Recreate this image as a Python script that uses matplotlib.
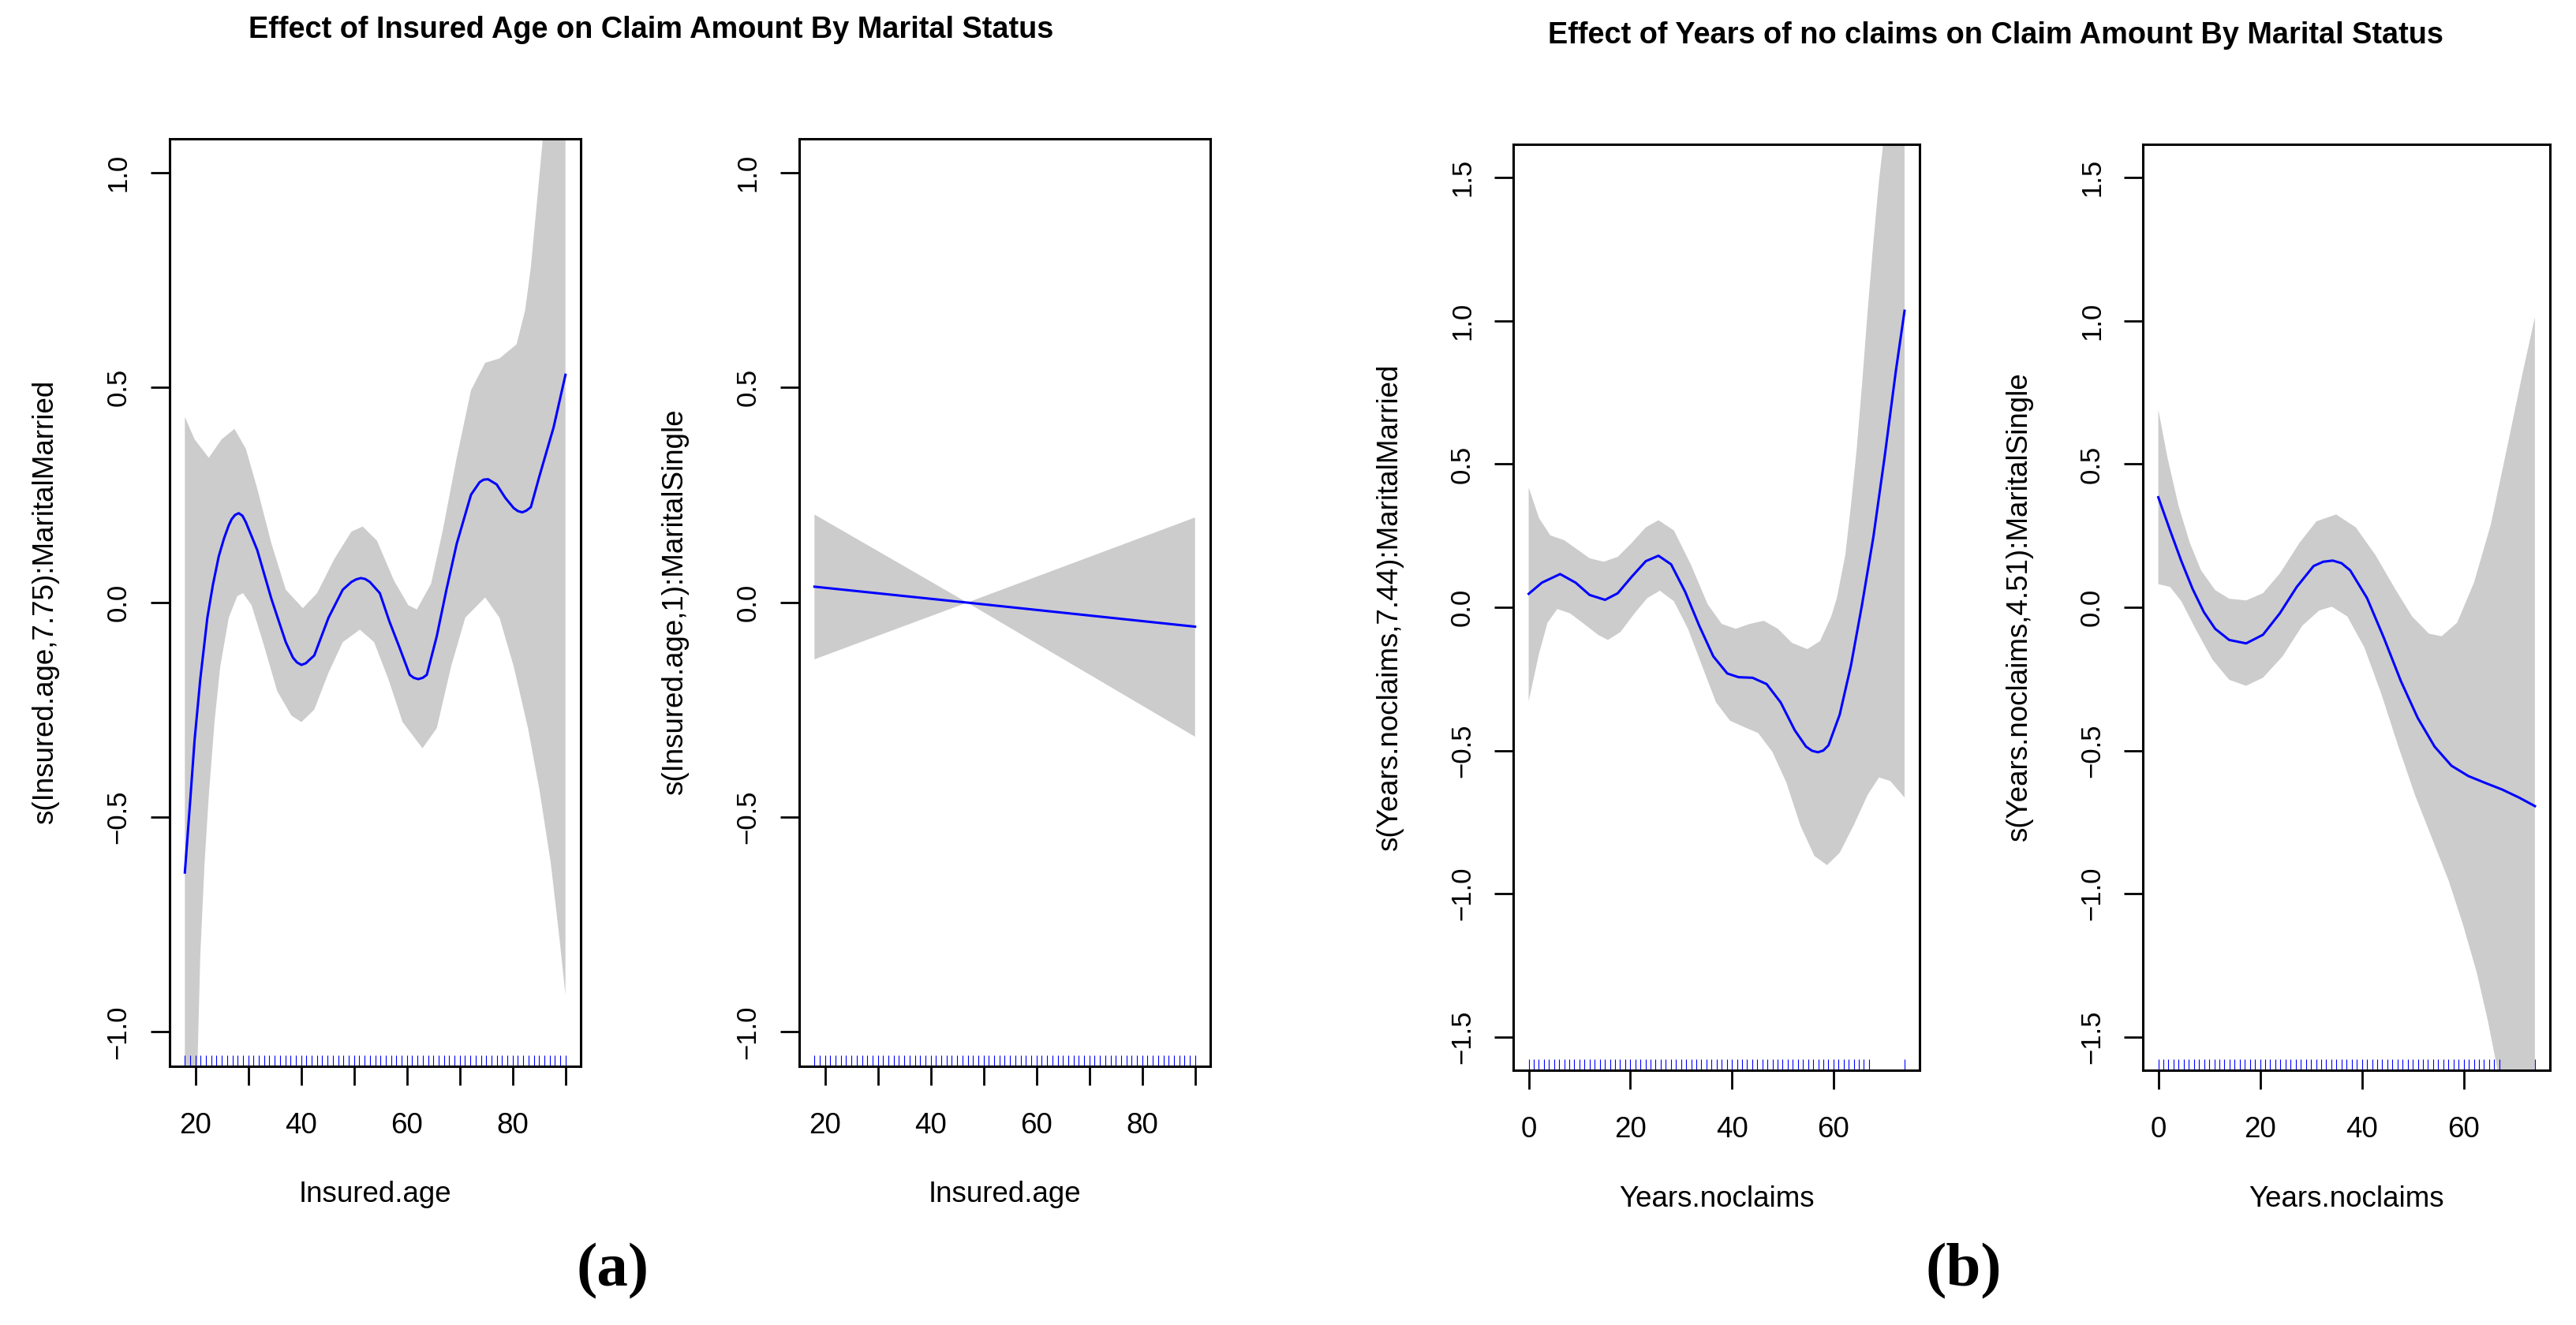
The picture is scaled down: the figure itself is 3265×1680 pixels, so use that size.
import matplotlib.pyplot as plt
import numpy as np

plt.rcParams['font.family'] = ['Liberation Sans', 'DejaVu Sans']

# ---- (a) left: s(Insured.age,7.75):MaritalMarried
am_fit_x = [18, 19.0, 19.84, 20.92, 22.26, 23.3, 24.42, 25.4, 26.31, 26.85, 27.5, 28.19, 28.9, 29.54,
            31.70, 34.39, 37.09, 38.44, 39.2, 40.05, 40.9, 41.67, 42.48, 45.18, 47.87, 49.5, 50.4,
            51.27, 52.1, 53.0, 54.88, 56.7, 58.65, 60.54, 61.3, 62.15, 63.0, 63.77, 65.66, 67.5,
            69.43, 72.13, 73.75, 74.5, 75.36, 76.98, 78.60, 80.2, 81.0, 81.83, 82.6, 83.45, 85.07,
            87.76, 90]
am_fit_y = [-0.629, -0.464, -0.321, -0.179, -0.036, 0.040, 0.107, 0.148, 0.179, 0.193, 0.203, 0.207, 0.201,
            0.186, 0.121, 0.007, -0.093, -0.129, -0.140, -0.146, -0.142, -0.133, -0.124, -0.036, 0.029,
            0.047, 0.053, 0.056, 0.054, 0.047, 0.021, -0.045, -0.107, -0.169, -0.176, -0.179, -0.176,
            -0.169, -0.079, 0.030, 0.136, 0.250, 0.279, 0.285, 0.286, 0.274, 0.243, 0.219, 0.212, 0.209,
            0.213, 0.221, 0.293, 0.407, 0.529]
am_up_x = [18, 19.84, 22.53, 24.96, 27.39, 29.54, 31.70, 34.39, 37.09, 40.32, 43.02, 46.25, 49.49,
           51.64, 54.34, 57.57, 60.27, 61.89, 64.58, 66.74, 69.43, 72.13, 74.82, 77.52, 80.75,
           82.37, 83.45, 84.53, 85.61, 87.0, 90]
am_up_y = [0.431, 0.379, 0.336, 0.379, 0.403, 0.357, 0.264, 0.136, 0.029, -0.014, 0.021, 0.100, 0.164,
           0.176, 0.143, 0.050, -0.007, -0.017, 0.043, 0.164, 0.336, 0.493, 0.557, 0.567, 0.600,
           0.679, 0.779, 0.921, 1.064, 1.40, 1.97]
am_lo_x = [18, 20.38, 20.92, 21.73, 22.53, 23.61, 24.69, 26.31, 27.92, 29.0, 30.62, 32.78, 35.47,
           38.17, 40.05, 42.48, 45.18, 47.87, 51.11, 53.80, 56.50, 59.19, 62.96, 65.66, 68.36,
           71.05, 74.82, 77.52, 80.22, 82.91, 85.07, 87.22, 88.84, 90]
am_lo_y = [-1.69, -1.079, -0.821, -0.607, -0.450, -0.279, -0.150, -0.036, 0.014, 0.021, -0.007, -0.093, -0.207,
           -0.264, -0.279, -0.250, -0.164, -0.093, -0.064, -0.093, -0.179, -0.279, -0.340, -0.293, -0.150,
           -0.036, 0.011, -0.036, -0.150, -0.293, -0.436, -0.607, -0.779, -0.914]

# ---- (a) right: s(Insured.age,1):MaritalSingle
as_x = [18, 46.9, 90]
as_fit = [0.036, -0.001, -0.057]
as_up = [0.204, -0.001, 0.197]
as_lo = [-0.133, -0.001, -0.313]

# ---- (b) left: s(Years.noclaims,7.44):MaritalMarried
bm_fit_x = [0, 2.60, 6.19, 9.24, 12.0, 15.04, 17.53, 20.30, 23.06, 25.55, 28.04, 30.81, 33.57, 36.34,
            39.10, 41.32, 44.08, 46.85, 49.61, 52.38, 54.59, 55.8, 56.97, 58.0, 59.02, 61.23, 63.44,
            65.65, 67.87, 70.08, 72.29, 74.0]
bm_fit_y = [0.047, 0.086, 0.116, 0.086, 0.043, 0.026, 0.049, 0.107, 0.161, 0.180, 0.150, 0.054, -0.064,
            -0.171, -0.231, -0.244, -0.246, -0.268, -0.332, -0.429, -0.486, -0.501, -0.506, -0.500,
            -0.482, -0.375, -0.204, 0.011, 0.246, 0.525, 0.825, 1.035]
bm_up_x = [0, 2.05, 4.26, 7.02, 9.79, 12.0, 14.77, 17.53, 20.30, 23.06, 25.55, 28.6, 31.91, 35.23, 38.0,
           40.76, 43.53, 46.29, 49.06, 51.83, 54.87, 57.36, 59.57, 60.67, 62.33, 63.44, 64.55, 65.65,
           66.76, 67.87, 68.97, 69.8, 74.0]
bm_up_y = [0.418, 0.311, 0.251, 0.234, 0.199, 0.171, 0.159, 0.176, 0.225, 0.279, 0.304, 0.268, 0.150,
           0.011, -0.058, -0.075, -0.058, -0.047, -0.075, -0.124, -0.146, -0.118, -0.032, 0.032, 0.182,
           0.354, 0.546, 0.782, 1.039, 1.275, 1.489, 1.618, 2.73]
bm_lo_x = [0, 2.05, 3.71, 5.64, 8.13, 10.9, 13.66, 15.6, 18.09, 20.85, 23.34, 25.83, 28.6, 31.36, 34.13,
           36.89, 39.66, 42.42, 45.19, 47.95, 50.72, 53.48, 56.25, 58.74, 61.23, 63.99, 66.76, 68.97,
           71.18, 74.0]
bm_lo_y = [-0.328, -0.161, -0.054, -0.006, -0.021, -0.058, -0.096, -0.114, -0.086, -0.021, 0.032, 0.058,
           0.021, -0.075, -0.204, -0.332, -0.396, -0.418, -0.439, -0.504, -0.611, -0.761, -0.868, -0.900,
           -0.857, -0.761, -0.654, -0.594, -0.606, -0.664]

# ---- (b) right: s(Years.noclaims,4.51):MaritalSingle
bs_fit_x = [0, 2.32, 4.53, 6.74, 8.96, 11.17, 13.93, 17.25, 20.56, 23.88, 27.20, 30.51, 32.4, 34.27, 36.0,
            37.70, 41.02, 44.33, 47.65, 50.97, 54.28, 57.60, 60.92, 64.24, 67.55, 70.87, 74.0]
bs_fit_y = [0.384, 0.268, 0.161, 0.064, -0.017, -0.075, -0.114, -0.126, -0.096, -0.021, 0.071, 0.144,
            0.159, 0.163, 0.154, 0.129, 0.032, -0.107, -0.257, -0.386, -0.486, -0.553, -0.589, -0.613,
            -0.636, -0.664, -0.694]
bs_up_x = [0, 1.77, 3.98, 6.19, 8.40, 11.17, 13.93, 17.25, 20.56, 23.88, 27.75, 31.07, 34.94, 38.81,
           42.68, 46.54, 49.86, 53.18, 55.67, 58.71, 62.03, 65.34, 68.66, 71.42, 74.0]
bs_up_y = [0.690, 0.525, 0.354, 0.225, 0.129, 0.060, 0.030, 0.024, 0.049, 0.118, 0.225, 0.300, 0.324,
           0.279, 0.182, 0.064, -0.032, -0.092, -0.101, -0.054, 0.086, 0.289, 0.568, 0.804, 1.013]
bs_lo_x = [0, 2.32, 4.53, 7.30, 10.61, 13.93, 17.25, 20.56, 24.43, 28.30, 31.62, 34.11, 37.15, 40.46,
           43.78, 47.10, 50.41, 53.73, 57.05, 59.81, 62.58, 64.79, 66.45, 74.0]
bs_lo_y = [0.081, 0.071, 0.021, -0.075, -0.182, -0.253, -0.274, -0.246, -0.171, -0.064, -0.011, 0.002,
           -0.032, -0.139, -0.300, -0.482, -0.654, -0.804, -0.954, -1.104, -1.275, -1.446, -1.596, -2.40]

# rug positions (observed values)
rug_age = [18, 19, 20, 21, 22, 23, 24, 25, 26, 27, 28, 29, 30, 31, 32, 33, 34, 35, 36, 37, 38, 39,
           40, 41, 42, 43, 44, 45, 46, 47, 48, 49, 50, 51, 52, 53, 54, 55, 56, 57, 58, 59, 60, 61,
           62, 63, 64, 65, 66, 67, 68, 69, 70, 71, 72, 73, 74, 75, 76, 77, 78, 79, 80, 81, 82, 83,
           84, 85, 86, 87, 88, 89, 90]
rug_years = [0, 1, 2, 3, 4, 5, 6, 7, 8, 9, 10, 11, 12, 13, 14, 15, 16, 17, 18, 19, 20, 21, 22, 23,
             24, 25, 26, 27, 28, 29, 30, 31, 32, 33, 34, 35, 36, 37, 38, 39, 40, 41, 42, 43, 44, 45,
             46, 47, 48, 49, 50, 51, 52, 53, 54, 55, 56, 57, 58, 59, 60, 61, 62, 63, 64, 65, 66, 67, 74]

W, H = 3266, 1680
fig = plt.figure(figsize=(W / 100, H / 100), dpi=100)


def px_axes(left, right, top, bottom):
    return fig.add_axes([left / W, 1 - bottom / H, (right - left) / W, (bottom - top) / H])


def fmt(v):
    return ('%.1f' % v).replace('-', '\u2212')


def panel(ax, fx, fy, ux, uy, lx, ly, rug, xlim, ylim, xt, xtl, yt, ylab, xlab, box):
    ax.fill(np.r_[ux, lx[::-1]], np.r_[uy, ly[::-1]], color='#cccccc', lw=0, zorder=1)
    ax.vlines(rug, 0, 0.0115, transform=ax.get_xaxis_transform(), color='blue', lw=0.8, zorder=2)
    ax.plot(fx, fy, color='blue', lw=2.2, zorder=3, solid_joinstyle='round')
    ax.set_xlim(xlim)
    ax.set_ylim(ylim)
    ax.set_xticks(xt, xtl)
    ax.set_yticks(yt, [fmt(v) for v in yt], rotation=90, va='center')
    ax.tick_params(axis='both', direction='out', length=17, width=2, color='black')
    ax.tick_params(axis='x', labelsize=26.5, pad=25)
    ax.tick_params(axis='y', labelsize=25, pad=18)
    for s in ax.spines.values():
        s.set_linewidth(2.2)
    left, right, top, bottom = box
    fig.text((left - 157) / W, 1 - (top + bottom) / 2 / H, ylab, rotation=90,
             ha='center', va='center', fontsize=26.5)
    fig.text((left + right) / 2 / W, 1 - (bottom + 163) / H, xlab,
             ha='center', va='center', fontsize=26.5)


xlim_a = (15.12, 92.88)
xlim_b = (-2.96, 76.96)
ylim_a = (-1.079, 1.079)
ylim_b = (-1.616, 1.616)
xt_a = [20, 30, 40, 50, 60, 70, 80, 90]
xtl_a = ['20', '', '40', '', '60', '', '80', '']
xt_b = [0, 20, 40, 60]
xtl_b = ['0', '20', '40', '60']
yt_a = [-1.0, -0.5, 0.0, 0.5, 1.0]
yt_b = [-1.5, -1.0, -0.5, 0.0, 0.5, 1.0, 1.5]

boxes = [(215, 736, 175.5, 1351.5), (1013, 1534, 175.5, 1351.5),
         (1918.5, 2433, 183, 1357), (2716.5, 3232, 183, 1357)]

ax1 = px_axes(*boxes[0])
panel(ax1, am_fit_x, am_fit_y, am_up_x, am_up_y, am_lo_x, am_lo_y, rug_age,
      xlim_a, ylim_a, xt_a, xtl_a, yt_a, 's(Insured.age,7.75):MaritalMarried', 'Insured.age', boxes[0])
ax2 = px_axes(*boxes[1])
panel(ax2, as_x, as_fit, as_x, as_up, as_x, as_lo, rug_age,
      xlim_a, ylim_a, xt_a, xtl_a, yt_a, 's(Insured.age,1):MaritalSingle', 'Insured.age', boxes[1])
ax3 = px_axes(*boxes[2])
panel(ax3, bm_fit_x, bm_fit_y, bm_up_x, bm_up_y, bm_lo_x, bm_lo_y, rug_years,
      xlim_b, ylim_b, xt_b, xtl_b, yt_b, 's(Years.noclaims,7.44):MaritalMarried', 'Years.noclaims', boxes[2])
ax4 = px_axes(*boxes[3])
panel(ax4, bs_fit_x, bs_fit_y, bs_up_x, bs_up_y, bs_lo_x, bs_lo_y, rug_years,
      xlim_b, ylim_b, xt_b, xtl_b, yt_b, 's(Years.noclaims,4.51):MaritalSingle', 'Years.noclaims', boxes[3])

fig.text(825.5 / W, 1 - 48 / H, 'Effect of Insured Age on Claim Amount By Marital Status',
         ha='center', va='baseline', fontsize=27.3, fontweight='bold')
fig.text(2529.5 / W, 1 - 55 / H, 'Effect of Years of no claims on Claim Amount By Marital Status',
         ha='center', va='baseline', fontsize=27.3, fontweight='bold')

fig.text(777 / W, 1 - 1612 / H, '(a)', ha='center', va='center', fontsize=57,
         fontweight='bold', family=['Liberation Serif', 'DejaVu Serif'])
fig.text(2489 / W, 1 - 1612 / H, '(b)', ha='center', va='center', fontsize=57,
         fontweight='bold', family=['Liberation Serif', 'DejaVu Serif'])

fig.savefig('out.png', dpi=100)
